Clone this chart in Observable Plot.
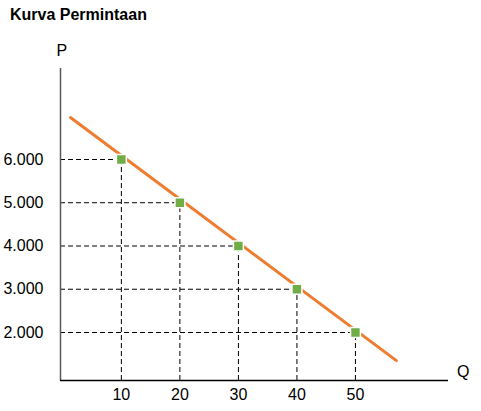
<!DOCTYPE html>
<html>
<head>
<meta charset="utf-8">
<script src="https://cdn.jsdelivr.net/npm/d3@7"></script>
<script src="https://cdn.jsdelivr.net/npm/@observablehq/plot@0.6"></script>
<style>
  body { margin: 0; background: #fff; }
  #wrap { position: relative; width: 481px; height: 411px; }
  #title { position: absolute; left: 10px; top: 6px; font: bold 16px "Liberation Sans", Arial, sans-serif; color: #000; }
</style>
</head>
<body>
<div id="wrap">
  <div id="title">Kurva Permintaan</div>
</div>
<script>
const quantities = [10, 20, 30, 40, 50];
const prices = [6000, 5000, 4000, 3000, 2000];
const curveQ = [1.3, 57.0];
const curveP = [6970, 1350];
const xDomain = [-0.4, 65.9];
const yDomain = [890, 8104];

const points = quantities.map((q, i) => ({ q, p: prices[i] }));
const curve = curveQ.map((q, i) => ({ q, p: curveP[i] }));
const fmt = d3.formatLocale({ thousands: ".", grouping: [3], decimal: "," }).format(",");

const chart = Plot.plot({
  width: 481,
  height: 411,
  marginLeft: 60,
  marginRight: 33,
  marginTop: 68,
  marginBottom: 31,
  style: { fontFamily: "'Liberation Sans', Arial, sans-serif", fontSize: "16px", background: "white", color: "black" },
  x: { domain: xDomain },
  y: { domain: yDomain },
  marks: [
    Plot.ruleY(points, { y: "p", x1: xDomain[0], x2: "q", stroke: "black", strokeWidth: 1, strokeDasharray: "5,3" }),
    Plot.ruleX(points, { x: "q", y1: yDomain[0], y2: "p", stroke: "black", strokeWidth: 1, strokeDasharray: "5,3" }),
    Plot.line(curve, { x: "q", y: "p", stroke: "#ED7D31", strokeWidth: 3 }),
    Plot.dot(points, { x: "q", y: "p", symbol: "square", r: 5.6, fill: "#70AD47", stroke: "white", strokeWidth: 1.5 }),
    Plot.ruleX([xDomain[0]], { stroke: "#595959", strokeWidth: 1.5 }),
    Plot.ruleY([yDomain[0]], { stroke: "black", strokeWidth: 1.5 }),
    Plot.axisY({ ticks: prices, tickFormat: fmt, tickSize: 0, tickPadding: 17, label: null }),
    Plot.axisX({ ticks: quantities, tickFormat: d => String(d), tickSize: 0, tickPadding: 8, label: null }),
    Plot.text(["P"], { frameAnchor: "top-left", dx: -4, dy: -24, fontSize: 16 }),
    Plot.text(["Q"], { frameAnchor: "bottom-right", dx: 21, dy: -4, fontSize: 16 })
  ]
});
document.getElementById("wrap").prepend(chart);
chart.style.position = "absolute";
chart.style.left = "0";
chart.style.top = "0";
</script>
</body>
</html>
